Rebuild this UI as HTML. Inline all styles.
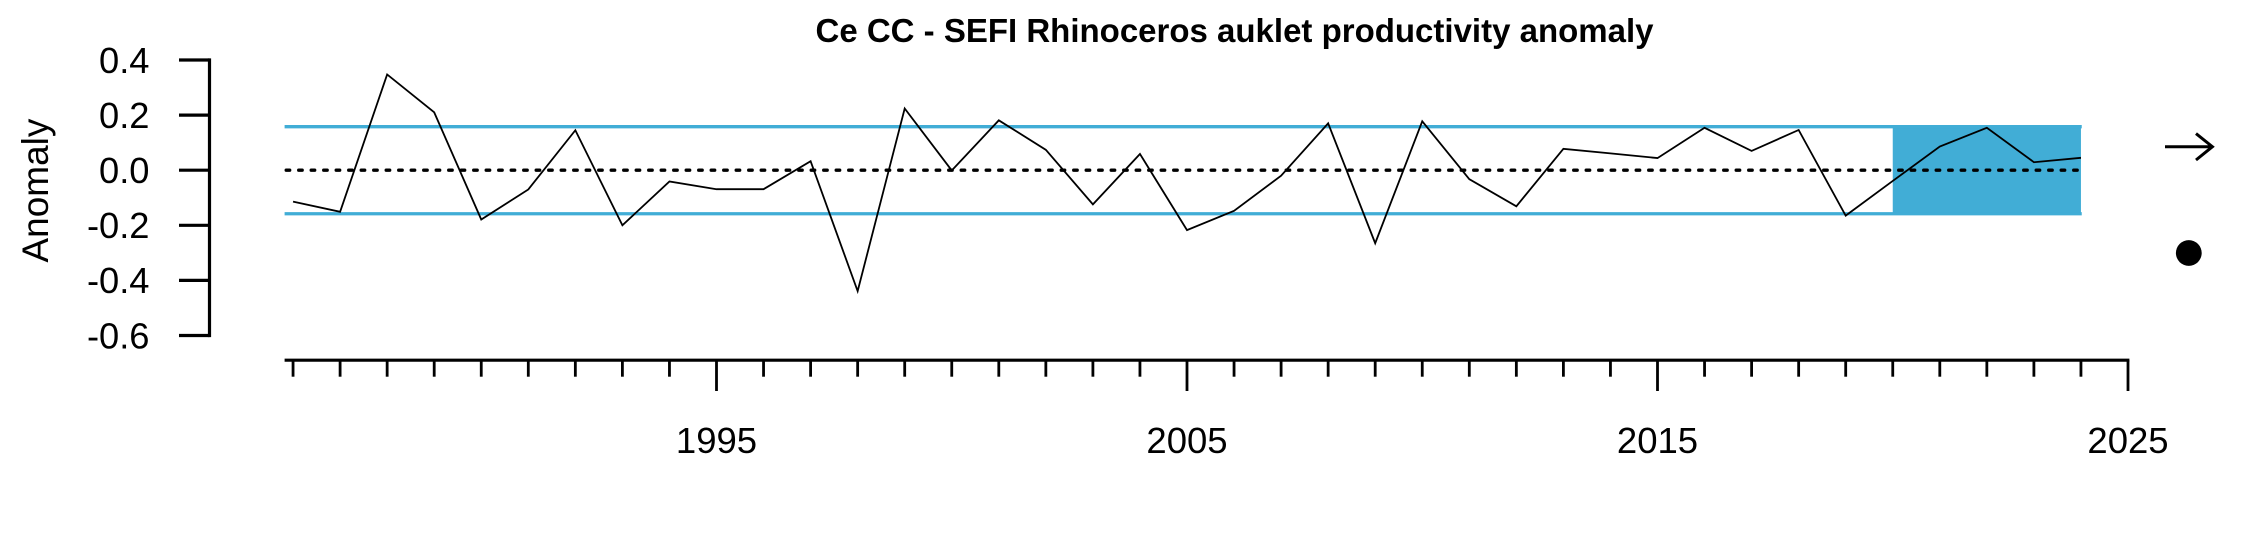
<!DOCTYPE html>
<html lang="en">
<head>
<meta charset="utf-8">
<title>Ce CC - SEFI Rhinoceros auklet productivity anomaly</title>
<style>
html,body{margin:0;padding:0;background:#fff;width:2250px;height:540px;overflow:hidden}
svg{display:block}
text{font-family:"Liberation Sans",Arial,sans-serif;fill:#000}
</style>
</head>
<body>
<svg id="chart" xmlns="http://www.w3.org/2000/svg" width="2250" height="540" viewBox="0 0 2250 540"></svg>
<script>
const years = [1986,1987,1988,1989,1990,1991,1992,1993,1994,1995,1996,1997,1998,1999,2000,2001,2002,2003,2004,2005,2006,2007,2008,2009,2010,2011,2012,2013,2014,2015,2016,2017,2018,2019,2020,2021,2022,2023,2024];
const anomaly = [-0.114,-0.151,0.3475,0.21,-0.179,-0.07,0.145,-0.2,-0.041,-0.069,-0.069,0.0325,-0.439,0.224,-0.001,0.181,0.074,-0.124,0.059,-0.2175,-0.1475,-0.02,0.17,-0.265,0.1775,-0.0325,-0.131,0.0775,0.061,0.044,0.154,0.07,0.146,-0.165,-0.039,0.086,0.154,0.029,0.045];
const yTickValues = [0.4,0.2,0,-0.2,-0.4,-0.6];
const yTickLabels = ["0.4","0.2","0.0","-0.2","-0.4","-0.6"];
const xMajorYears = [1995,2005,2015,2025];
const xMajorLabels = ["1995","2005","2015","2025"];
const stdevBand = [-0.158,0.158];
const recentPeriod = [2020,2024];

const NS = 'http://www.w3.org/2000/svg';
const svg = document.getElementById('chart');
const BLUE = '#41add6';

function xScale(year){ return 716.5 + 47.05 * (year - 1995); }
function yScale(v){ return 170.2 - 275.5 * v; }

function make(tag, attrs, text){
  const el = document.createElementNS(NS, tag);
  for (const k in attrs) el.setAttribute(k, attrs[k]);
  if (text !== undefined) el.textContent = text;
  svg.appendChild(el);
  return el;
}

const xLeft = 284.6;
const xRight = xScale(recentPeriod[1]);

// shaded recent period
const shade = make('rect', {
  x: xScale(recentPeriod[0]),
  y: yScale(stdevBand[1]),
  width: xScale(recentPeriod[1]) - xScale(recentPeriod[0]),
  height: yScale(stdevBand[0]) - yScale(stdevBand[1]),
  fill: BLUE
});



// band lines
const bandUpper = make('line', {x1: xLeft, x2: xRight + 0.8, y1: yScale(stdevBand[1]), y2: yScale(stdevBand[1]), stroke: BLUE, 'stroke-width': 3.3});


const bandLower = make('line', {x1: xLeft, x2: xRight + 0.8, y1: yScale(stdevBand[0]), y2: yScale(stdevBand[0]), stroke: BLUE, 'stroke-width': 3.3});



// zero mean line
const zero = make('line', {x1: xLeft + 1.6, x2: xRight - 3, y1: yScale(0), y2: yScale(0), stroke: '#000', 'stroke-width': 3.3, 'stroke-dasharray': '3.5 9', 'stroke-linecap': 'round'});



// series
const pts = years.map(function(yr, i){ return xScale(yr).toFixed(2) + ',' + yScale(anomaly[i]).toFixed(2); }).join(' ');
const series = make('polyline', {points: pts, fill: 'none', stroke: '#000', 'stroke-width': 1.8, 'stroke-linejoin': 'miter'});



// y axis
const yAxis = make('line', {x1: 209.5, x2: 209.5, y1: yScale(yTickValues[0]) - 1.6, y2: yScale(yTickValues[yTickValues.length - 1]) + 1.6, stroke: '#000', 'stroke-width': 3.2});


yTickValues.forEach(function(v, i){
  const tick = make('line', {x1: 179, x2: 209.5, y1: yScale(v), y2: yScale(v), stroke: '#000', 'stroke-width': 3.2});
  
  
  const label = make('text', {x: 149.5, y: yScale(v) + 12.8, 'text-anchor': 'end', 'font-size': 36.3}, yTickLabels[i]);
  
  
});

// x axis
const xAxis = make('line', {x1: xLeft, x2: xScale(2025) + 1.4, y1: 360.2, y2: 360.2, stroke: '#000', 'stroke-width': 3.2});


years.forEach(function(yr){
  if (xMajorYears.indexOf(yr) !== -1) return;
  const tick = make('line', {x1: xScale(yr), x2: xScale(yr), y1: 360.2, y2: 376.7, stroke: '#000', 'stroke-width': 2.8});
  
  
});
xMajorYears.forEach(function(yr, i){
  const tick = make('line', {x1: xScale(yr), x2: xScale(yr), y1: 360.2, y2: 391, stroke: '#000', 'stroke-width': 2.8});
  
  
  const label = make('text', {x: xScale(yr), y: 453, 'text-anchor': 'middle', 'font-size': 36.5}, xMajorLabels[i]);
  
  
});

// axis title
const yTitle = make('text', {transform: 'translate(48,190.6) rotate(-90)', 'text-anchor': 'middle', 'font-size': 37}, 'Anomaly');



// chart title
const title = make('text', {x: 1234.5, y: 42, 'text-anchor': 'middle', 'font-size': 33, 'font-weight': 'bold'}, 'Ce CC - SEFI Rhinoceros auklet productivity anomaly');



// trend arrow
const arrow = make('path', {d: 'M2165 146.7H2212M2196 133.6L2212.4 146.7L2196 160', fill: 'none', stroke: '#000', 'stroke-width': 3});



// status dot
const dot = make('circle', {cx: 2188.8, cy: 253, r: 12.9, fill: '#000'});


</script>
</body>
</html>
